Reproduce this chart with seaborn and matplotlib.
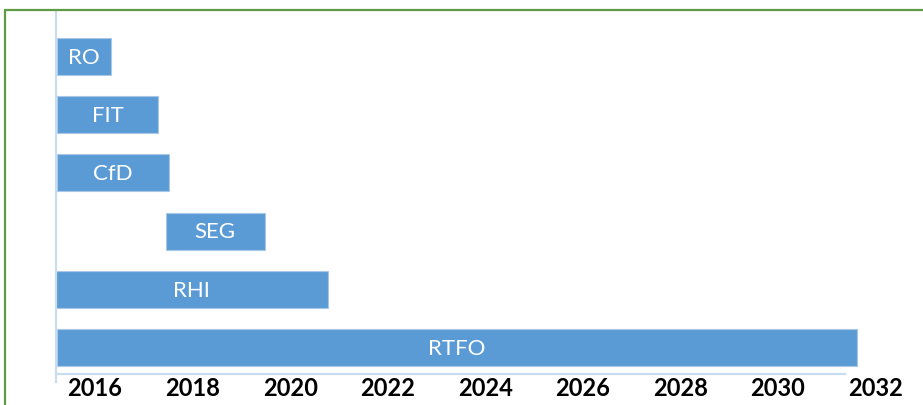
import matplotlib
matplotlib.use("Agg")
import matplotlib.pyplot as plt
from matplotlib.lines import Line2D
import numpy as np
import pandas as pd
import seaborn as sns

# Support schemes and the years each one runs over
schemes = ["RO", "FIT", "CfD", "SEG", "RHI", "RTFO"]
start_year = [2015.22, 2015.22, 2015.22, 2017.45, 2015.18, 2015.22]
end_year = [2016.33, 2017.29, 2017.52, 2019.48, 2020.77, 2031.61]
year_ticks = [2016, 2018, 2020, 2022, 2024, 2026, 2028, 2030, 2032]

df = pd.DataFrame({"scheme": schemes, "start": start_year, "end": end_year})
df["duration"] = df["end"] - df["start"]

sns.set_theme(style="white")
plt.rcParams["font.family"] = ["Lato", "DejaVu Sans"]

W, H = 923, 405
fig = plt.figure(figsize=(W / 100, H / 100), dpi=100)
ax = fig.add_axes([56 / W, 31 / H, (900 - 56) / W, (374 - 11) / H])

bar_blue = "#5B9BD5"
sns.barplot(data=df, x="duration", y="scheme", order=schemes, left=df["start"].values,
            color=bar_blue, saturation=1, width=0.635, errorbar=None,
            edgecolor="#A9C8E8", linewidth=0.8, ax=ax)

for i, row in df.iterrows():
    ax.text((row["start"] + row["end"]) / 2, i + 0.02, row["scheme"], ha="center", va="center",
            color="white", fontsize=16)

ax.set_xlim(2015.2, 2032.5)
ax.set_ylim(5.45, -0.78)
ax.set_xticks(year_ticks)
ax.set_xticklabels([str(y) for y in year_ticks], fontweight="bold", fontsize=17, color="black")
ax.tick_params(axis="x", length=0, pad=2)
ax.set_yticks([])
ax.set_xlabel("")
ax.set_ylabel("")

axis_blue = "#C9DDF1"
for side in ["top", "right"]:
    ax.spines[side].set_visible(False)
ax.spines["bottom"].set_color(axis_blue)
ax.spines["bottom"].set_linewidth(1.6)
ax.spines["bottom"].set_bounds(2015.2, 2031.37)
ax.spines["left"].set_color(axis_blue)
ax.spines["left"].set_linewidth(1.6)
ax.spines["left"].set_bounds(5.45 + 8 / 58.3, -0.78)

# Green frame along the top and left edges
green = "#5F9B45"
fig.add_artist(Line2D([5 / W, 1.0], [1 - 10 / H, 1 - 10 / H], color=green, lw=1.6,
                      transform=fig.transFigure))
fig.add_artist(Line2D([5 / W, 5 / W], [0.0, 1 - 10 / H], color=green, lw=1.6,
                      transform=fig.transFigure))

fig.savefig("out.png", dpi=100)
